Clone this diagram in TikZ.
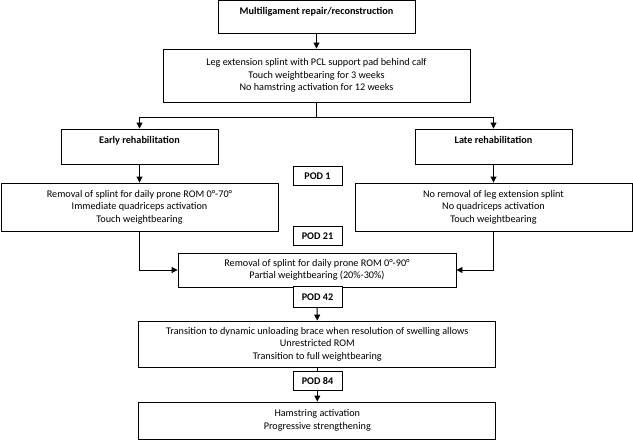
\documentclass[tikz,border=0pt]{standalone}
\usepackage{fontspec}
\setmainfont{Carlito}
\usetikzlibrary{positioning,arrows.meta}

\begin{document}
\begin{tikzpicture}[x=1pt, y=-1pt, >={Triangle[length=6pt,width=6pt]}, line width=0.9pt,
  box/.style={draw=black, rectangle, inner sep=0pt, align=center, font=\fontsize{10.2}{12.5}\selectfont},
  headbox/.style={box, font=\fontsize{10.2}{12.5}\selectfont\bfseries},
  podbox/.style={box, fill=white, minimum width=49pt, minimum height=19pt, font=\fontsize{10.2}{12.5}\selectfont\bfseries}]

\useasboundingbox (0,0) rectangle (633,440);

% Surgery and first weeks
\node[headbox, minimum width=197pt, minimum height=33pt] (repair) at (316.5,17) {Multiligament repair/reconstruction\\~};
\node[box, minimum width=307pt, minimum height=53pt] (splint) at (316.5,75.5) {Leg extension splint with PCL support pad behind calf\\Touch weightbearing for 3 weeks\\No hamstring activation for 12 weeks};
\coordinate (split) at (316.5,117);

% Two protocols
\node[headbox, minimum width=157pt, minimum height=35pt] (early) at (139.5,146.5) {Early rehabilitation\\~};
\node[headbox, minimum width=157pt, minimum height=35pt] (late) at (493.5,146.5) {Late rehabilitation\\~};
\node[box, minimum width=277pt, minimum height=48pt] (earlyplan) at (139.5,207) {Removal of splint for daily prone ROM 0°-70°\\Immediate quadriceps activation\\Touch weightbearing};
\node[box, minimum width=277pt, minimum height=48pt] (lateplan) at (493.5,207) {No removal of leg extension splint\\No quadriceps activation\\Touch weightbearing};

% Common course
\node[box, minimum width=278pt, minimum height=34pt] (partial) at (317,270) {Removal of splint for daily prone ROM 0°-90°\\Partial weightbearing (20\%-30\%)};
\node[box, minimum width=357pt, minimum height=46pt] (brace) at (317.3,344) {Transition to dynamic unloading brace when resolution of swelling allows\\Unrestricted ROM\\Transition to full weightbearing};
\node[box, minimum width=357pt, minimum height=37pt] (strength) at (317.3,420.5) {Hamstring activation\\Progressive strengthening};

% Connections
\draw[->] (repair) -- (splint);
\draw (splint) -- (split);
\draw[->] (split) -| (early);
\draw[->] (split) -| (late);
\draw[->] (early) -- (earlyplan);
\draw[->] (late) -- (late |- lateplan.north);
\draw[->] (earlyplan.south) |- (partial);
\draw[->] (late |- lateplan.south) |- (partial);
\draw[->] (partial) -- (brace);
\draw[->] (brace) -- (strength);

% Postoperative days
\node[podbox] (pod1) at (317.5,176) {POD 1};
\node[podbox] (pod21) at (317.5,236) {POD 21};
\node[podbox, minimum height=21pt] (pod42) at (317.5,297) {POD 42};
\node[podbox] (pod84) at (317.5,381) {POD 84};

\end{tikzpicture}
\end{document}
